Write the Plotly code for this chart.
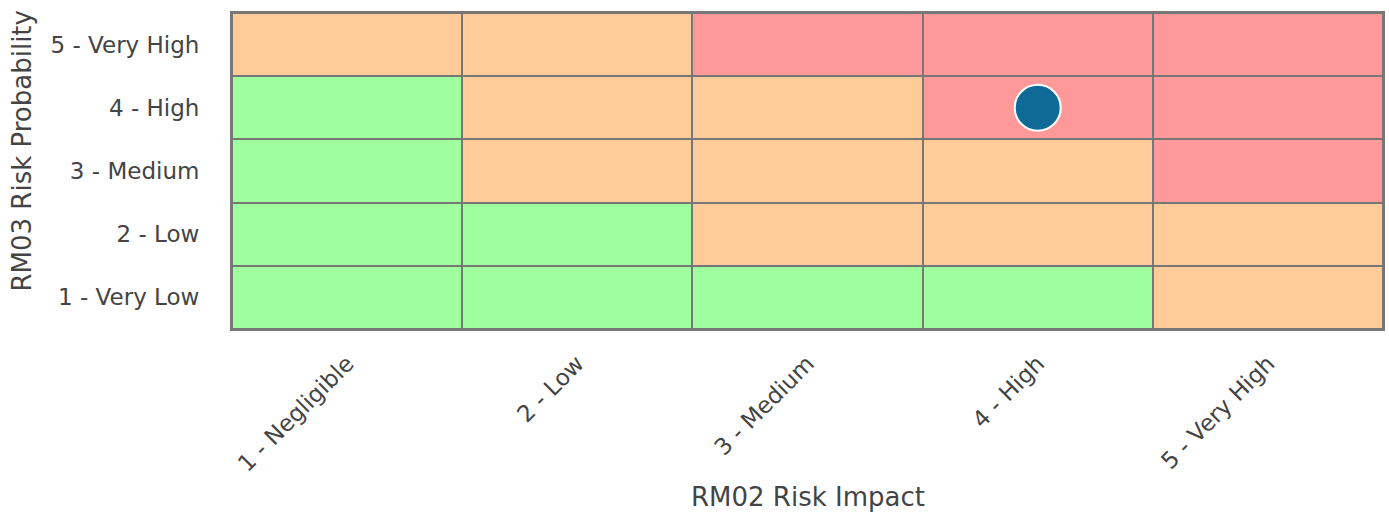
import plotly.graph_objects as go

impact_labels = ["1 - Negligible", "2 - Low", "3 - Medium", "4 - High", "5 - Very High"]
prob_labels = ["1 - Very Low", "2 - Low", "3 - Medium", "4 - High", "5 - Very High"]
impact_vals = [1, 2, 3, 4, 5]
prob_vals = [1, 2, 3, 4, 5]
# risk level: 0 = low (green), 1 = medium (orange), 2 = high (red); rows = probability 1..5
risk_levels = [
    [0, 0, 0, 0, 1],
    [0, 0, 1, 1, 1],
    [0, 1, 1, 1, 2],
    [0, 1, 1, 2, 2],
    [1, 1, 2, 2, 2],
]
point_impact = [4]
point_prob = [4]
x_title = "RM02 Risk Impact"
y_title = "RM03 Risk Probability"

green, orange, red = "#9fff9f", "#ffcc99", "#ff9999"
grid = "#777777"
font_fam = "DejaVu Sans, Verdana, sans-serif"

fig = go.Figure()
fig.add_trace(go.Heatmap(
    x=impact_vals, y=prob_vals, z=risk_levels,
    zmin=0, zmax=2,
    colorscale=[[0, green], [0.3333, green], [0.3334, orange], [0.6666, orange], [0.6667, red], [1, red]],
    showscale=False, xgap=2, ygap=2, hoverinfo="skip",
))
fig.add_trace(go.Scatter(
    x=point_impact, y=point_prob, mode="markers",
    marker=dict(size=46, color="#106a98", line=dict(color="white", width=2)),
    showlegend=False,
))
fig.update_layout(
    width=1389, height=514,
    margin=dict(l=232, r=4, t=13, b=185),
    plot_bgcolor=grid, paper_bgcolor="white",
    font=dict(family=font_fam, color="#444444", size=23),
    showlegend=False,
)
fig.update_xaxes(
    range=[0.5, 5.5], tickvals=impact_vals, ticktext=impact_labels,
    tickangle=-45, showgrid=False, zeroline=False,
    showline=True, mirror=True, linecolor=grid, linewidth=2,
    ticks="outside", ticklen=10, tickcolor="rgba(0,0,0,0)",
    tickfont=dict(size=23),
)
fig.update_yaxes(
    range=[0.5, 5.5], tickvals=prob_vals, ticktext=prob_labels,
    showgrid=False, zeroline=False,
    showline=True, mirror=True, linecolor=grid, linewidth=2,
    ticks="outside", ticklen=26, tickcolor="rgba(0,0,0,0)",
    tickfont=dict(size=23),
)
fig.add_annotation(
    text=x_title, xref="paper", yref="paper", x=0.5, y=-0.5316,
    xanchor="center", yanchor="middle", showarrow=False,
    font=dict(size=26, color="#444444"),
)
fig.add_annotation(
    text=y_title, xref="paper", yref="paper", x=-0.1821, y=0.563,
    xanchor="center", yanchor="middle", showarrow=False, textangle=-90,
    font=dict(size=26, color="#444444"),
)
fig.write_html("out.html", config={"displayModeBar": False},
               post_script="document.body.style.margin='0';")
